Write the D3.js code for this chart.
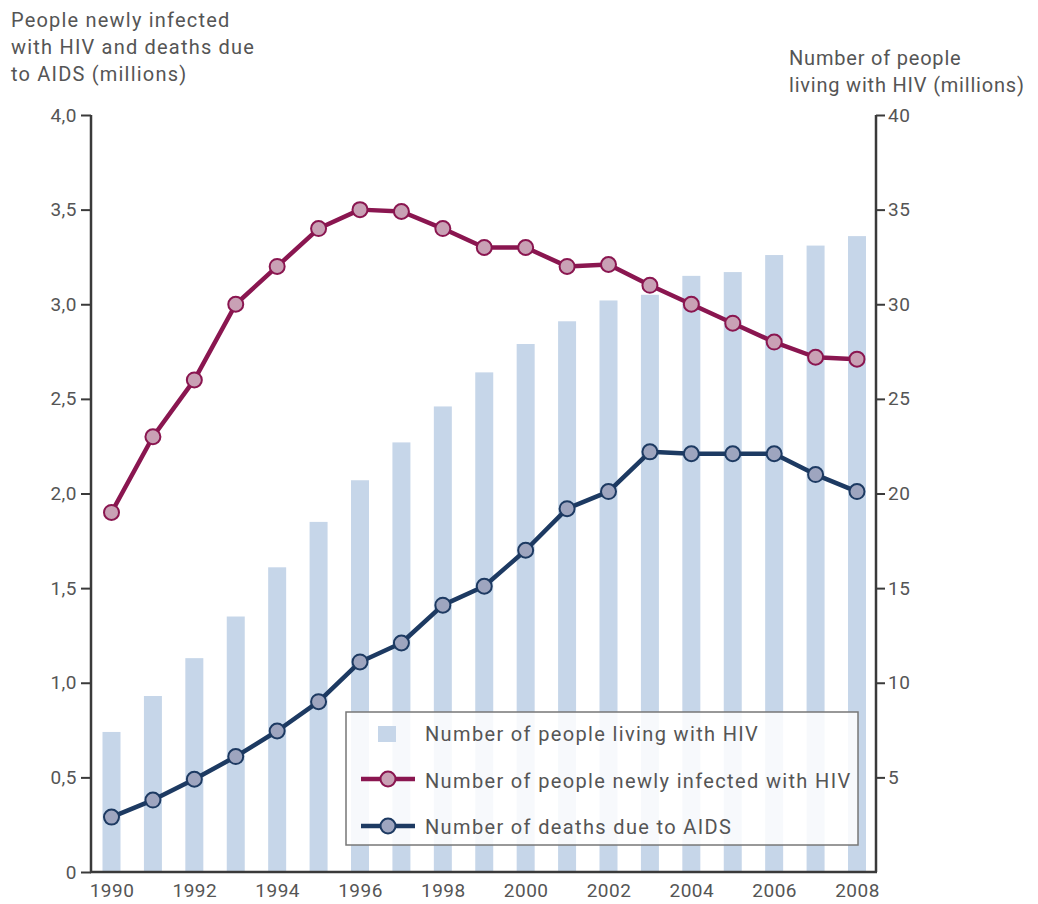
<!DOCTYPE html>
<html>
<head>
<meta charset="utf-8">
<script src="https://cdn.jsdelivr.net/npm/d3@7"></script>
<style>
  body { margin: 0; background: #fff; }
  svg text { font-family: Roboto, "DejaVu Sans", sans-serif; fill: #555; }
</style>
</head>
<body>
<svg id="chart" width="1038" height="904"></svg>
<script>
// data
const years = [1990, 1991, 1992, 1993, 1994, 1995, 1996, 1997, 1998, 1999,
               2000, 2001, 2002, 2003, 2004, 2005, 2006, 2007, 2008];
const livingWithHiv = [7.4, 9.3, 11.3, 13.5, 16.1, 18.5, 20.7, 22.7, 24.6, 26.4,
                       27.9, 29.1, 30.2, 30.5, 31.5, 31.7, 32.6, 33.1, 33.6];
const newlyInfected = [1.9, 2.3, 2.6, 3.0, 3.2, 3.4, 3.5, 3.49, 3.4, 3.3,
                       3.3, 3.2, 3.21, 3.1, 3.0, 2.9, 2.8, 2.72, 2.71];
const aidsDeaths = [0.29, 0.38, 0.49, 0.61, 0.745, 0.9, 1.11, 1.21, 1.41, 1.51,
                    1.7, 1.92, 2.01, 2.22, 2.21, 2.21, 2.21, 2.1, 2.01];
const leftTicks = [0, 0.5, 1, 1.5, 2, 2.5, 3, 3.5, 4];
const rightTicks = [5, 10, 15, 20, 25, 30, 35, 40];
const xTickYears = [1990, 1992, 1994, 1996, 1998, 2000, 2002, 2004, 2006, 2008];
const legendLabels = ['Number of people living with HIV',
                      'Number of people newly infected with HIV',
                      'Number of deaths due to AIDS'];

const colors = {
  bar: '#c6d6e9',
  infLine: '#8a1650', infFill: '#c9a1b5',
  deathLine: '#1d3a62', deathFill: '#9ea5bf',
  axis: '#3a3a3a'
};

const plotLeft = 91, plotRight = 876, plotTop = 115, plotBottom = 872;

const svg = d3.select('#chart');

const x = d3.scalePoint().domain(years).range([111.5, 857]);
const yL = d3.scaleLinear().domain([0, 4]).range([plotBottom, plotTop]);
const yR = d3.scaleLinear().domain([0, 40]).range([plotBottom, plotTop]);
const barW = 18;

// bars
svg.append('g').selectAll('rect')
  .data(years)
  .join('rect')
  .attr('x', d => x(d) - barW / 2)
  .attr('y', (d, i) => yR(livingWithHiv[i]))
  .attr('width', barW)
  .attr('height', (d, i) => plotBottom - yR(livingWithHiv[i]))
  .attr('fill', colors.bar);

// axes
const fmt = d => d === 0 ? '0' : d3.format('.1f')(d).replace('.', ',');
const gL = svg.append('g').attr('transform', `translate(${plotLeft},0)`)
  .call(d3.axisLeft(yL).tickValues(leftTicks).tickFormat(fmt).tickSize(10).tickPadding(4));
const gR = svg.append('g').attr('transform', `translate(${plotRight},0)`)
  .call(d3.axisRight(yR).tickValues(rightTicks).tickSize(9).tickPadding(3));
[gL, gR].forEach(g => {
  g.select('.domain').attr('stroke', colors.axis).attr('stroke-width', 2.5)
    .attr('d', `M0,${plotTop}V${plotBottom}`);
  g.selectAll('.tick line').attr('stroke', colors.axis).attr('stroke-width', 2);
  g.selectAll('.tick text').attr('font-size', 19).attr('fill', '#555')
    .attr('letter-spacing', 0.5)
    .attr('font-family', 'Roboto, "DejaVu Sans", sans-serif');
});

const gB = svg.append('g').attr('transform', `translate(0,${plotBottom})`)
  .call(d3.axisBottom(x).tickValues(xTickYears).tickSize(0).tickPadding(12));
gB.select('.domain').attr('stroke', colors.axis).attr('stroke-width', 2.5)
  .attr('d', `M${plotLeft - 1},0H${plotRight + 1}`);
gB.selectAll('.tick text').attr('font-size', 19).attr('fill', '#555')
  .attr('letter-spacing', 0.5)
  .attr('font-family', 'Roboto, "DejaVu Sans", sans-serif');

// lines
function drawSeries(vals, stroke, fill) {
  const line = d3.line().x((d, i) => x(years[i])).y(d => yL(d));
  svg.append('path').datum(vals)
    .attr('d', line).attr('fill', 'none')
    .attr('stroke', stroke).attr('stroke-width', 4.5)
    .attr('stroke-linejoin', 'round');
  svg.append('g').selectAll('circle')
    .data(vals)
    .join('circle')
    .attr('cx', (d, i) => x(years[i]))
    .attr('cy', d => yL(d))
    .attr('r', 7.5)
    .attr('fill', fill)
    .attr('stroke', stroke)
    .attr('stroke-width', 2);
}
drawSeries(newlyInfected, colors.infLine, colors.infFill);
drawSeries(aidsDeaths, colors.deathLine, colors.deathFill);

// legend
const lg = svg.append('g').attr('transform', 'translate(346,712)');
lg.append('rect').attr('width', 512).attr('height', 133)
  .attr('fill', '#fff').attr('fill-opacity', 0.85)
  .attr('stroke', '#777').attr('stroke-width', 1.5);
lg.append('rect').attr('x', 32).attr('y', 14).attr('width', 18).attr('height', 16)
  .attr('fill', colors.bar);
[[colors.infLine, colors.infFill, 67], [colors.deathLine, colors.deathFill, 114]].forEach(([s, f, cy]) => {
  lg.append('line').attr('x1', 15).attr('x2', 69).attr('y1', cy).attr('y2', cy)
    .attr('stroke', s).attr('stroke-width', 4.5);
  lg.append('circle').attr('cx', 42).attr('cy', cy).attr('r', 7.5)
    .attr('fill', f).attr('stroke', s).attr('stroke-width', 2);
});
lg.selectAll('text.lab')
  .data(legendLabels)
  .join('text')
  .attr('class', 'lab')
  .attr('x', 79)
  .attr('y', (d, i) => 22 + i * 46.5)
  .attr('dy', '0.35em')
  .attr('font-size', 20)
  .attr('letter-spacing', 1.35)
  .text(d => d);

// axis titles
const leftTitle = ['People newly infected', 'with HIV and deaths due', 'to AIDS (millions)'];
svg.append('g').selectAll('text')
  .data(leftTitle)
  .join('text')
  .attr('x', 11)
  .attr('y', (d, i) => 27 + i * 27)
  .attr('font-size', 20)
  .attr('letter-spacing', 1.2)
  .text(d => d);
const rightTitle = ['Number of people', 'living with HIV (millions)'];
svg.append('g').selectAll('text')
  .data(rightTitle)
  .join('text')
  .attr('x', 789)
  .attr('y', (d, i) => 65 + i * 27)
  .attr('font-size', 20)
  .attr('letter-spacing', 0.8)
  .text(d => d);
</script>
</body>
</html>
